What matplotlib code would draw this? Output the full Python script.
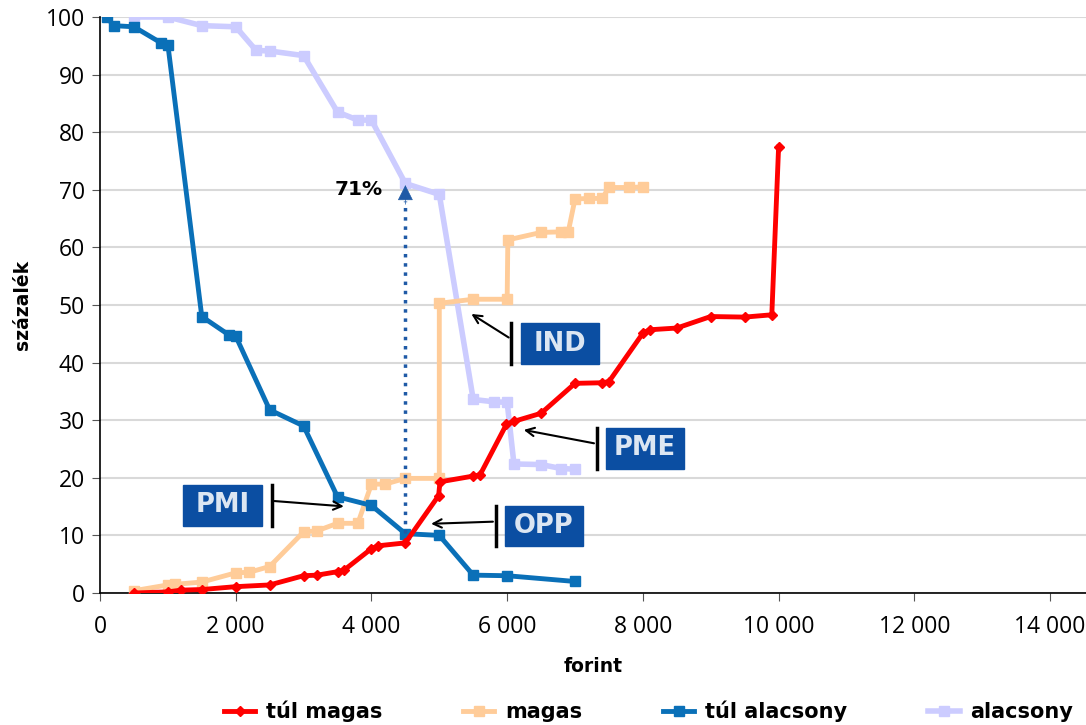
import matplotlib
matplotlib.use("Agg")
import matplotlib.pyplot as plt
from matplotlib.patches import Rectangle
from matplotlib.ticker import FuncFormatter, MultipleLocator

# túl magas (piros)
tul_magas_x = [500, 1000, 1200, 1500, 2000, 2500, 3000, 3200, 3500, 3600, 4000, 4100, 4500, 4990, 5010,
               5500, 5600, 5990, 6100, 6500, 7000, 7400, 7500, 8000, 8100, 8500, 9000, 9500, 9900, 10000]
tul_magas_y = [0.0, 0.2, 0.5, 0.6, 1.1, 1.4, 3.0, 3.1, 3.7, 4.0, 7.7, 8.2, 8.7, 16.9, 19.3,
               20.3, 20.5, 29.3, 29.8, 31.2, 36.4, 36.5, 36.7, 45.1, 45.7, 46.0, 48.0, 47.9, 48.3, 77.4]

# magas (barack)
magas_x = [500, 1000, 1100, 1500, 2000, 2200, 2500, 3000, 3200, 3500, 3800, 4000, 4200, 4500, 5000,
           5000, 5500, 6000, 6010, 6500, 6800, 6900, 7000, 7200, 7400, 7500, 7800, 8000]
magas_y = [0.4, 1.4, 1.5, 1.9, 3.5, 3.6, 4.6, 10.6, 10.8, 12.1, 12.1, 18.9, 18.9, 19.9, 19.9,
           50.3, 51.0, 51.0, 61.3, 62.6, 62.7, 62.7, 68.4, 68.5, 68.5, 70.4, 70.4, 70.5]

# túl alacsony (kék)
tul_alacsony_x = [100, 200, 500, 900, 1000, 1500, 1900, 2000, 2500, 3000, 3500, 4000, 4500, 5000, 5500, 6000, 7000]
tul_alacsony_y = [100.0, 98.5, 98.3, 95.5, 95.2, 48.0, 44.8, 44.6, 31.8, 29.0, 16.7, 15.2, 10.3, 10.0, 3.1, 3.0, 2.0]

# alacsony (lila)
alacsony_x = [500, 1000, 1500, 2000, 2300, 2500, 3000, 3500, 3800, 4000, 4500, 5000,
              5500, 5800, 6000, 6100, 6500, 6800, 7000]
alacsony_y = [100.0, 100.0, 98.5, 98.3, 94.2, 94.1, 93.3, 83.5, 82.1, 82.1, 71.1, 69.2,
              33.6, 33.2, 33.1, 22.4, 22.3, 21.6, 21.5]

cimkek = ["PMI", "OPP", "IND", "PME"]

fig = plt.figure(figsize=(10.86, 7.25), dpi=100)
ax = fig.add_axes([100 / 1086, 1 - 593 / 725, 986 / 1086, 576 / 725])

ax.plot(alacsony_x, alacsony_y, color="#CCCCFF", lw=4, marker="s", ms=7, label="alacsony", zorder=3)
ax.plot(magas_x, magas_y, color="#FFCC99", lw=3.5, marker="s", ms=7, label="magas", zorder=3)
ax.plot(tul_alacsony_x, tul_alacsony_y, color="#0A70B8", lw=3.5, marker="s", ms=6.5, label="túl alacsony", zorder=4)
ax.plot(tul_magas_x, tul_magas_y, color="#FF0000", lw=3.5, marker="D", ms=5, label="túl magas", zorder=5)

ax.set_xlim(0, 14530)
ax.set_ylim(0, 100)
ax.xaxis.set_major_locator(MultipleLocator(2000))
ax.yaxis.set_major_locator(MultipleLocator(10))
ax.xaxis.set_major_formatter(FuncFormatter(lambda v, p: f"{int(v):,}".replace(",", " ")))
ax.grid(axis="y", color="#D9D9D9", lw=1.5, zorder=0)
ax.set_axisbelow(True)
for s in ["top", "right"]:
    ax.spines[s].set_visible(False)
ax.spines["left"].set_linewidth(1.2)
ax.spines["bottom"].set_linewidth(1.2)
ax.tick_params(axis="both", direction="out", length=6, color="#555555", labelsize=16.5, pad=5)
for t in ax.get_xticklabels() + ax.get_yticklabels():
    t.set_fontfamily("Open Sans")
ax.tick_params(axis="x", pad=10)

ax.set_xlabel("forint", fontsize=13.5, fontweight="bold", labelpad=13)
ax.set_ylabel("százalék", fontsize=13.5, fontweight="bold", labelpad=10)

# 71% nyíl
ax.plot([4500, 4500], [10.4, 68.0], ls=":", color="#1F5AA6", lw=2.5, zorder=6)
ax.annotate("", xy=(4500, 71.3), xytext=(4500, 67.0),
            arrowprops=dict(arrowstyle="-|>,head_length=1.0,head_width=0.5", color="#1F5AA6", lw=0.5), zorder=6)
ax.text(4160, 70.0, "71%", ha="right", va="center", fontsize=14.5, fontweight="bold")

# címkék dobozokban
box_c = [(1805, 15.2), (6543, 11.6), (6779, 43.3), (8025, 25.1)]
bar_x = [2530, 5831, 6057, 7320]
nyil_vege = [(3634, 15.0), (4838, 12.0), (5438, 48.7), (6204, 28.4)]
bw, bh = 1150, 7.0
for lab, (cx, cy), bx, (ex, ey) in zip(cimkek, box_c, bar_x, nyil_vege):
    ax.add_patch(Rectangle((cx - bw / 2, cy - bh / 2), bw, bh, color="#0B4EA2", zorder=7))
    ax.text(cx, cy, lab, ha="center", va="center", color="#DCE6F2", fontsize=18.5, fontweight="bold", zorder=8)
    ax.plot([bx, bx], [cy - bh / 2, cy + bh / 2], color="black", lw=2.5, zorder=7)
    ax.annotate("", xy=(ex, ey), xytext=(bx, cy + 0.8),
                arrowprops=dict(arrowstyle="->,head_length=0.6,head_width=0.3", color="black", lw=1.5), zorder=7)

h, l = ax.get_legend_handles_labels()
order = [3, 1, 2, 0]
fig.legend([h[i] for i in order], [l[i] for i in order], loc="lower center", bbox_to_anchor=(0.597, -0.022),
           ncol=4, frameon=False, prop=dict(weight="bold", size=15), handlelength=1.5,
           handletextpad=0.5, columnspacing=3.9)

fig.savefig("out.png", dpi=100)
